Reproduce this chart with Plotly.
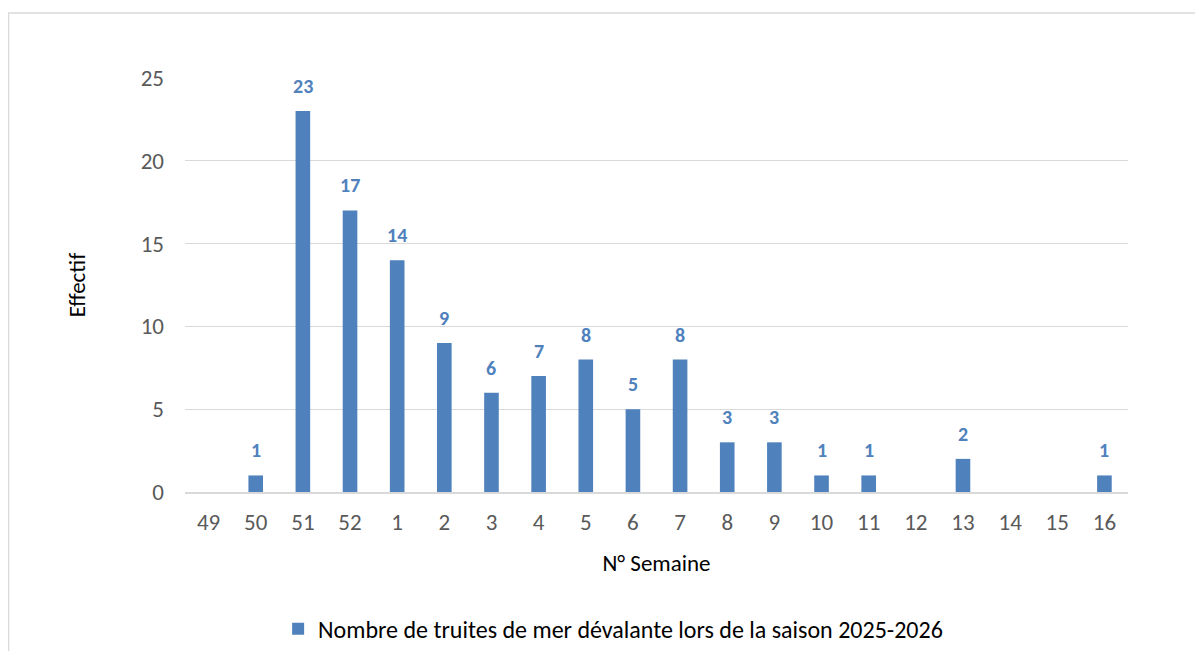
import plotly.graph_objects as go

weeks = ["49", "50", "51", "52", "1", "2", "3", "4", "5", "6", "7", "8", "9", "10", "11", "12", "13", "14", "15", "16"]
counts = [None, 1, 23, 17, 14, 9, 6, 7, 8, 5, 8, 3, 3, 1, 1, None, 2, None, None, 1]
series_name = "Nombre de truites de mer dévalante lors de la saison 2025-2026"
y_ticks = [0, 5, 10, 15, 20, 25]

FONT = "Carlito, Calibri, Lato, 'Open Sans', sans-serif"
BLUE = "#4F81BD"

positions = list(range(len(weeks)))

fig = go.Figure()
fig.add_trace(go.Bar(
    x=positions, y=counts, name=series_name,
    marker=dict(color=BLUE, line=dict(width=0)),
    width=0.31,
))

for p, c in zip(positions, counts):
    if c is not None:
        fig.add_annotation(x=p, y=c, text=str(c), showarrow=False,
                           yanchor="bottom", yshift=11,
                           font=dict(family=FONT, size=20, color=BLUE, weight="bold"))

# Chart border (Excel chart area)
fig.add_shape(type="rect", xref="paper", yref="paper",
              x0=(0.5 - 177) / 943, x1=1.2, y0=-0.6, y1=1 + (70 - 5) / 414,
              line=dict(color="#D9D9D9", width=1.5), fillcolor="rgba(0,0,0,0)", layer="below")

fig.update_layout(
    width=1195, height=643,
    margin=dict(l=177, r=75, t=70, b=159, autoexpand=False),
    paper_bgcolor="white", plot_bgcolor="white",
    font=dict(family=FONT, size=23, color="#595959"),
    showlegend=True,
    legend=dict(orientation="h", x=0.454, xanchor="center", y=-0.331, yanchor="middle",
                font=dict(family=FONT, size=24, color="#000000")),
    xaxis=dict(range=[-0.5, len(weeks) - 0.5], tickvals=positions, ticktext=weeks,
               showgrid=False, showline=True, linecolor="#D9D9D9", linewidth=1.5,
               zeroline=False, ticks="", ticklabelstandoff=9, automargin=False,
               tickfont=dict(family=FONT, size=23, color="#595959"),
               title=dict(text="N° Semaine", standoff=20,
                          font=dict(family=FONT, size=23, color="#000000"))),
    yaxis=dict(range=[0, 25], tickvals=y_ticks, showgrid=True, gridcolor="#D9D9D9", gridwidth=1.2,
               zeroline=False, showline=False, ticks="", ticklabelstandoff=20, automargin=False,
               tickfont=dict(family=FONT, size=23, color="#595959"),
               title=dict(text="Effectif", standoff=48,
                          font=dict(family=FONT, size=23, color="#000000"))),
)

fig.write_html("out.html")
